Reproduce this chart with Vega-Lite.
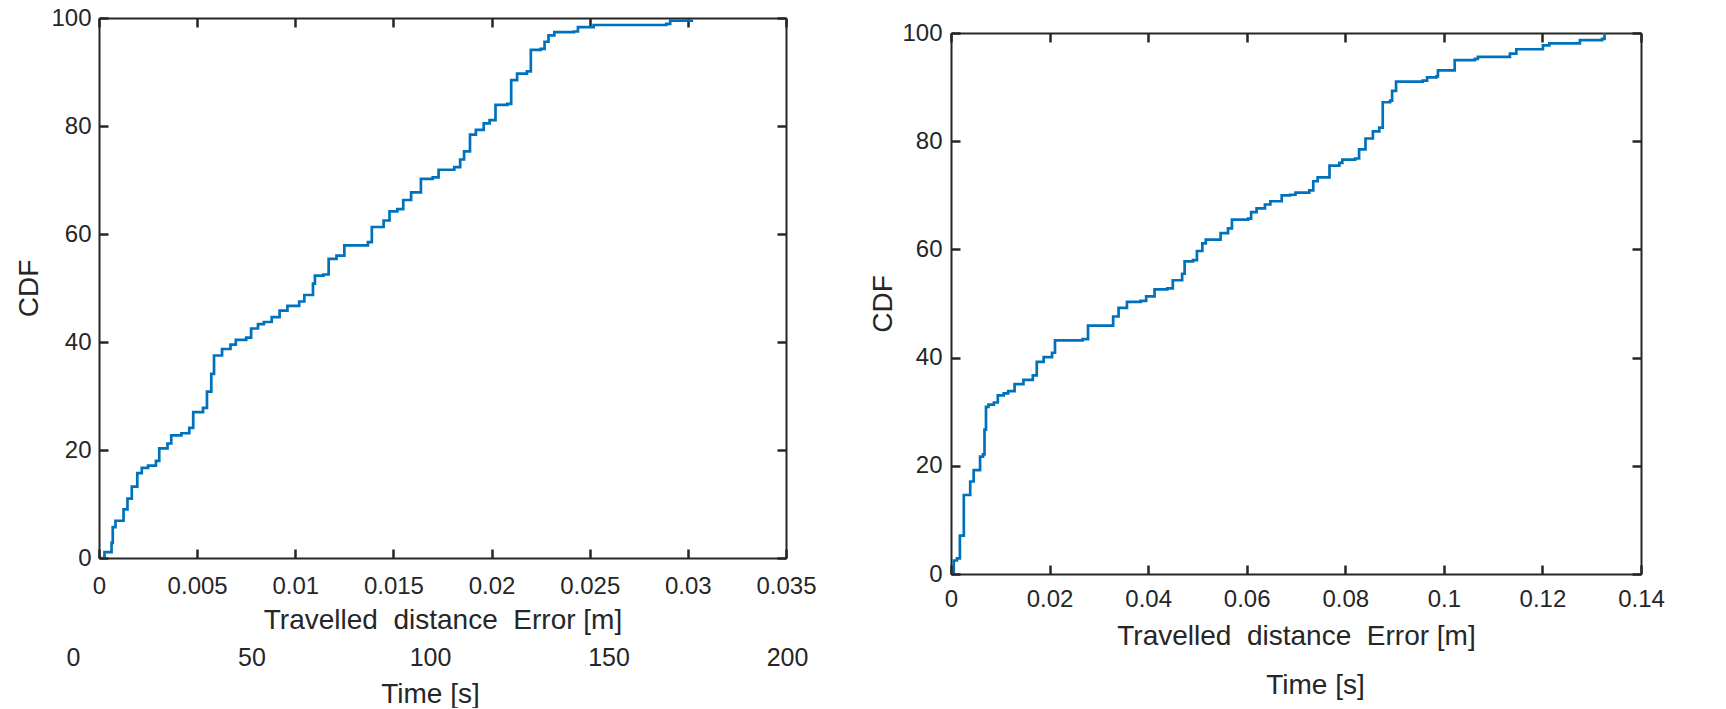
{
  "$schema": "https://vega.github.io/schema/vega-lite/v6.json",
  "background": "white",
  "padding": {"left": 15, "top": 6, "right": 0, "bottom": 0},
  "spacing": 52,
  "config": {
    "font": "Liberation Sans",
    "view": {"stroke": null},
    "axis": {
      "labelFont": "Liberation Sans",
      "titleFont": "Liberation Sans",
      "labelColor": "#262626",
      "titleColor": "#262626",
      "labelFontSize": 24,
      "titleFontSize": 28,
      "titleFontWeight": "normal",
      "domainColor": "#262626",
      "domainWidth": 2,
      "tickColor": "#262626",
      "tickWidth": 2.5,
      "tickSize": -9,
      "grid": false,
      "labelFlush": false,
      "labelOverlap": false
    }
  },
  "datasets": {
    "left": [
      {"err": 0, "cdf": 0}, {"err": 0.00028, "cdf": 1.1}, {"err": 0.00064, "cdf": 2.8}, {"err": 0.0007, "cdf": 5.7},
      {"err": 0.00084, "cdf": 6.9}, {"err": 0.00125, "cdf": 9}, {"err": 0.00145, "cdf": 11}, {"err": 0.00167, "cdf": 13.2},
      {"err": 0.00195, "cdf": 15.7}, {"err": 0.00218, "cdf": 16.7}, {"err": 0.0025, "cdf": 17.1}, {"err": 0.0029, "cdf": 18},
      {"err": 0.00307, "cdf": 20.3}, {"err": 0.00349, "cdf": 21.2}, {"err": 0.00368, "cdf": 22.7}, {"err": 0.0042, "cdf": 23.1},
      {"err": 0.0046, "cdf": 24.1}, {"err": 0.0048, "cdf": 27}, {"err": 0.0053, "cdf": 27.8}, {"err": 0.0055, "cdf": 30.8},
      {"err": 0.00572, "cdf": 34.1}, {"err": 0.00586, "cdf": 37.5}, {"err": 0.00627, "cdf": 38.7}, {"err": 0.0067, "cdf": 39.5},
      {"err": 0.00697, "cdf": 40.4}, {"err": 0.0075, "cdf": 40.8}, {"err": 0.00775, "cdf": 42.5}, {"err": 0.0081, "cdf": 43.3},
      {"err": 0.0084, "cdf": 43.7}, {"err": 0.0088, "cdf": 44.6}, {"err": 0.0092, "cdf": 45.8}, {"err": 0.0096, "cdf": 46.7},
      {"err": 0.0102, "cdf": 47.5}, {"err": 0.01046, "cdf": 48.7}, {"err": 0.0109, "cdf": 50.8}, {"err": 0.011, "cdf": 52.3},
      {"err": 0.01143, "cdf": 52.5}, {"err": 0.0117, "cdf": 55.4}, {"err": 0.0121, "cdf": 56}, {"err": 0.0125, "cdf": 57.9},
      {"err": 0.0131, "cdf": 57.9}, {"err": 0.0137, "cdf": 58.5}, {"err": 0.0139, "cdf": 61.3}, {"err": 0.0145, "cdf": 62.5},
      {"err": 0.0148, "cdf": 64.2}, {"err": 0.0152, "cdf": 64.6}, {"err": 0.0155, "cdf": 66.3}, {"err": 0.0159, "cdf": 67.7},
      {"err": 0.0164, "cdf": 70.2}, {"err": 0.017, "cdf": 70.5}, {"err": 0.0173, "cdf": 71.9}, {"err": 0.0181, "cdf": 72.4},
      {"err": 0.0184, "cdf": 73.8}, {"err": 0.0186, "cdf": 75.3}, {"err": 0.0189, "cdf": 78.4}, {"err": 0.0192, "cdf": 79.3},
      {"err": 0.0196, "cdf": 80.5}, {"err": 0.0199, "cdf": 81.1}, {"err": 0.0202, "cdf": 83.9}, {"err": 0.0208, "cdf": 84.1},
      {"err": 0.021, "cdf": 88.5}, {"err": 0.0213, "cdf": 89.7}, {"err": 0.0218, "cdf": 90.1}, {"err": 0.022, "cdf": 94.1},
      {"err": 0.0225, "cdf": 94.3}, {"err": 0.0227, "cdf": 95.6}, {"err": 0.0229, "cdf": 96.8}, {"err": 0.0232, "cdf": 97.4},
      {"err": 0.0242, "cdf": 97.5}, {"err": 0.0244, "cdf": 98.3}, {"err": 0.0252, "cdf": 98.7}, {"err": 0.0289, "cdf": 98.9},
      {"err": 0.0291, "cdf": 99.5}, {"err": 0.0302, "cdf": 99.7}
    ],
    "right": [
      {"err": 0, "cdf": 0}, {"err": 0.00056, "cdf": 2.5}, {"err": 0.0012, "cdf": 2.9}, {"err": 0.0018, "cdf": 7.1},
      {"err": 0.0026, "cdf": 14.6}, {"err": 0.0035, "cdf": 14.6}, {"err": 0.0039, "cdf": 17.1}, {"err": 0.0046, "cdf": 19.2},
      {"err": 0.0056, "cdf": 19.2}, {"err": 0.0059, "cdf": 21.7}, {"err": 0.0065, "cdf": 22.1}, {"err": 0.0068, "cdf": 26.7},
      {"err": 0.0071, "cdf": 30.9}, {"err": 0.0076, "cdf": 31.3}, {"err": 0.0087, "cdf": 31.7}, {"err": 0.0095, "cdf": 33},
      {"err": 0.0107, "cdf": 33.4}, {"err": 0.0116, "cdf": 33.8}, {"err": 0.0129, "cdf": 35.1}, {"err": 0.0147, "cdf": 35.9},
      {"err": 0.0166, "cdf": 36.7}, {"err": 0.0174, "cdf": 39.2}, {"err": 0.0188, "cdf": 40.1}, {"err": 0.0205, "cdf": 40.9},
      {"err": 0.0211, "cdf": 43.2}, {"err": 0.0267, "cdf": 43.4}, {"err": 0.0278, "cdf": 45.9}, {"err": 0.0323, "cdf": 45.9},
      {"err": 0.0329, "cdf": 47.6}, {"err": 0.034, "cdf": 49.2}, {"err": 0.0357, "cdf": 50.3}, {"err": 0.0385, "cdf": 50.5},
      {"err": 0.0396, "cdf": 51.3}, {"err": 0.0413, "cdf": 52.6}, {"err": 0.0439, "cdf": 52.8}, {"err": 0.045, "cdf": 54.3},
      {"err": 0.0469, "cdf": 55.5}, {"err": 0.0474, "cdf": 57.8}, {"err": 0.0491, "cdf": 58}, {"err": 0.0499, "cdf": 59.7},
      {"err": 0.051, "cdf": 61.1}, {"err": 0.0517, "cdf": 61.8}, {"err": 0.0541, "cdf": 61.8}, {"err": 0.0547, "cdf": 63},
      {"err": 0.0562, "cdf": 63.9}, {"err": 0.057, "cdf": 65.5}, {"err": 0.0603, "cdf": 65.7}, {"err": 0.0609, "cdf": 66.9},
      {"err": 0.062, "cdf": 67.6}, {"err": 0.0637, "cdf": 68.3}, {"err": 0.0648, "cdf": 68.9}, {"err": 0.0671, "cdf": 70},
      {"err": 0.0688, "cdf": 70.1}, {"err": 0.0699, "cdf": 70.5}, {"err": 0.0727, "cdf": 70.9}, {"err": 0.0735, "cdf": 72.6},
      {"err": 0.0744, "cdf": 73.3}, {"err": 0.0761, "cdf": 73.3}, {"err": 0.0768, "cdf": 75.5}, {"err": 0.0788, "cdf": 76},
      {"err": 0.0794, "cdf": 76.6}, {"err": 0.082, "cdf": 76.8}, {"err": 0.0828, "cdf": 78.5}, {"err": 0.0841, "cdf": 80.5},
      {"err": 0.0856, "cdf": 81.8}, {"err": 0.0869, "cdf": 82.5}, {"err": 0.0876, "cdf": 87.2}, {"err": 0.0891, "cdf": 87.5},
      {"err": 0.0895, "cdf": 89.3}, {"err": 0.0903, "cdf": 91}, {"err": 0.0957, "cdf": 91.2}, {"err": 0.0966, "cdf": 91.8},
      {"err": 0.0985, "cdf": 92}, {"err": 0.0988, "cdf": 93.1}, {"err": 0.1013, "cdf": 93.1}, {"err": 0.1022, "cdf": 95},
      {"err": 0.1063, "cdf": 95.2}, {"err": 0.1069, "cdf": 95.6}, {"err": 0.1125, "cdf": 95.6}, {"err": 0.1134, "cdf": 96.2},
      {"err": 0.1147, "cdf": 97}, {"err": 0.119, "cdf": 97}, {"err": 0.1201, "cdf": 97.7}, {"err": 0.1214, "cdf": 98.1},
      {"err": 0.127, "cdf": 98.1}, {"err": 0.1276, "cdf": 98.7}, {"err": 0.1321, "cdf": 98.9}, {"err": 0.1326, "cdf": 100}
    ],
    "timeTicks": [{"time": 0}, {"time": 200}]
  },
  "align": "none",
  "hconcat": [
    {
      "width": 687,
      "height": 540,
      "resolve": {"scale": {"x": "independent", "y": "independent"}, "axis": {"x": "independent", "y": "independent"}},
      "layer": [
        {
          "data": {"name": "left"},
          "mark": {"type": "line", "color": "#0072BD", "strokeWidth": 2.7, "interpolate": "step-after"},
          "encoding": {
            "x": {"field": "err", "type": "quantitative", "scale": {"domain": [0, 0.035], "nice": false, "zero": false},
              "axis": {"orient": "bottom", "values": [0, 0.005, 0.01, 0.015, 0.02, 0.025, 0.03, 0.035], "format": "~r", "labelPadding": 25, "title": "Travelled\u00a0 distance\u00a0 Error [m]", "titlePadding": 8, "zindex": 1}},
            "y": {"field": "cdf", "type": "quantitative", "scale": {"domain": [0, 100], "nice": false},
              "axis": {"orient": "left", "values": [0, 20, 40, 60, 80, 100], "format": "~r", "labelPadding": 17, "title": "CDF", "titlePadding": 7}}
          }
        },
        {
          "data": {"name": "left"},
          "mark": {"type": "line", "opacity": 0},
          "encoding": {
            "x": {"field": "err", "type": "quantitative", "scale": {"domain": [0, 0.035], "nice": false, "zero": false},
              "axis": {"orient": "top", "values": [0, 0.005, 0.01, 0.015, 0.02, 0.025, 0.03, 0.035], "labels": false, "title": null}},
            "y": {"field": "cdf", "type": "quantitative", "scale": {"domain": [0, 100], "nice": false},
              "axis": {"orient": "right", "values": [0, 20, 40, 60, 80, 100], "labels": false, "title": null}}
          }
        },
        {
          "data": {"name": "timeTicks"},
          "mark": {"type": "point", "opacity": 0},
          "encoding": {
            "x": {"field": "time", "type": "quantitative", "scale": {"domain": [0, 200], "range": [-26, 688], "nice": false, "zero": false},
              "axis": {"orient": "bottom", "offset": 80, "domain": false, "ticks": false, "tickSize": 0, "values": [0, 50, 100, 150, 200], "format": "~r", "labelFontSize": 25, "labelPadding": 7, "title": "Time [s]", "titlePadding": 10, "zindex": 0}}
          }
        }
      ]
    },
    {
      "width": 690,
      "height": 556,
      "resolve": {"scale": {"x": "independent", "y": "independent"}, "axis": {"x": "independent", "y": "independent"}},
      "layer": [
        {
          "data": {"name": "right"},
          "mark": {"type": "line", "color": "#0072BD", "strokeWidth": 2.7, "interpolate": "step-after"},
          "encoding": {
            "x": {"field": "err", "type": "quantitative", "scale": {"domain": [0, 0.14], "nice": false, "zero": false},
              "axis": {"orient": "bottom", "values": [0, 0.02, 0.04, 0.06, 0.08, 0.1, 0.12, 0.14], "format": "~r", "labelPadding": 22, "title": "Travelled\u00a0 distance\u00a0 Error [m]", "titlePadding": 11, "zindex": 1}},
            "y": {"field": "cdf", "type": "quantitative", "scale": {"domain": [0, 100], "nice": false, "range": [556, 15]},
              "axis": {"orient": "left", "values": [0, 20, 40, 60, 80, 100], "format": "~r", "labelPadding": 18, "title": "CDF", "titlePadding": 4.5}}
          }
        },
        {
          "data": {"name": "right"},
          "mark": {"type": "line", "opacity": 0},
          "encoding": {
            "x": {"field": "err", "type": "quantitative", "scale": {"domain": [0, 0.14], "nice": false, "zero": false},
              "axis": {"orient": "top", "offset": -15, "values": [0, 0.02, 0.04, 0.06, 0.08, 0.1, 0.12, 0.14], "labels": false, "title": null}},
            "y": {"field": "cdf", "type": "quantitative", "scale": {"domain": [0, 100], "nice": false, "range": [556, 15]},
              "axis": {"orient": "right", "values": [0, 20, 40, 60, 80, 100], "labels": false, "title": null}}
          }
        },
        {
          "data": {"name": "timeTicks"},
          "mark": {"type": "point", "opacity": 0},
          "encoding": {
            "x": {"field": "time", "type": "quantitative", "scale": {"domain": [0, 200], "range": [-17, 745], "nice": false, "zero": false},
              "axis": {"orient": "bottom", "offset": 60, "domain": false, "ticks": false, "tickSize": 0, "values": [0, 50, 100, 150, 200], "labels": false, "title": "Time [s]", "titlePadding": 37, "zindex": 0}}
          }
        }
      ]
    }
  ]
}
